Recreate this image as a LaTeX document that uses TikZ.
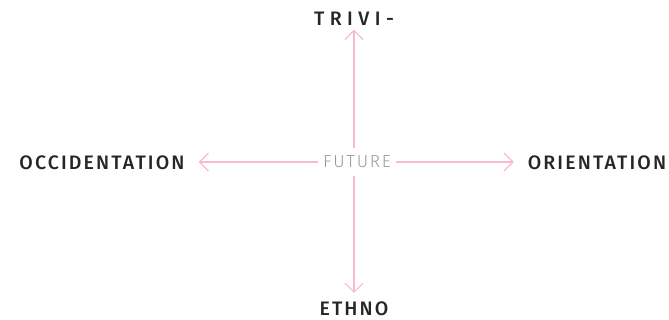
\documentclass[tikz,border=0pt]{standalone}
\usepackage{fontspec}
\setmainfont{Fira Sans}[BoldFont={Fira Sans Medium}]
\newfontfamily\lightfont{Fira Sans Light}
\usepackage{xcolor}
\usetikzlibrary{arrows.meta}
\definecolor{pinkline}{HTML}{F9B8D4}
\definecolor{labelgray}{HTML}{262626}
\definecolor{futuregray}{HTML}{999999}

\begin{document}
\begin{tikzpicture}[x=1pt, y=-1pt,
  axislabel/.style={font=\fontsize{19.5}{22}\selectfont\bfseries\addfontfeature{LetterSpace=11}, text=labelgray, inner sep=0pt},
  widelabel/.style={font=\fontsize{19.5}{22}\selectfont\bfseries\addfontfeature{LetterSpace=28}, text=labelgray, inner sep=0pt},
  axisarrow/.style={draw=pinkline, line width=1.2pt, -{Straight Barb[length=9pt, width=18pt]}}]
  \useasboundingbox (0,0) rectangle (669,320);
  % Centre
  \coordinate (hub) at (354,162);
  \node[font=\lightfont\fontsize{17.4}{20}\selectfont\addfontfeature{LetterSpace=10}, text=futuregray, inner xsep=5pt, inner ysep=8pt] (future) at (357,162) {FUTURE};
  % Axis ends
  \node[widelabel, outer sep=4pt] (trivi) at (354,19) {TRIVI-};
  \node[axislabel, outer sep=9pt] (ethno) at (354,309) {ETHNO};
  \node[axislabel, outer sep=14pt] (occ) at (102,163) {OCCIDENTATION};
  \node[axislabel, outer sep=14pt] (orient) at (597,163) {ORIENTATION};
  % Arrows
  \draw[axisarrow] (hub |- future.north) -- (hub |- trivi.south);
  \draw[axisarrow] (hub |- future.south) -- (hub |- ethno.north);
  \draw[axisarrow] (hub -| future.west) -- (hub -| occ.east);
  \draw[axisarrow] (hub -| future.east) -- (hub -| orient.west);
\end{tikzpicture}
\end{document}
